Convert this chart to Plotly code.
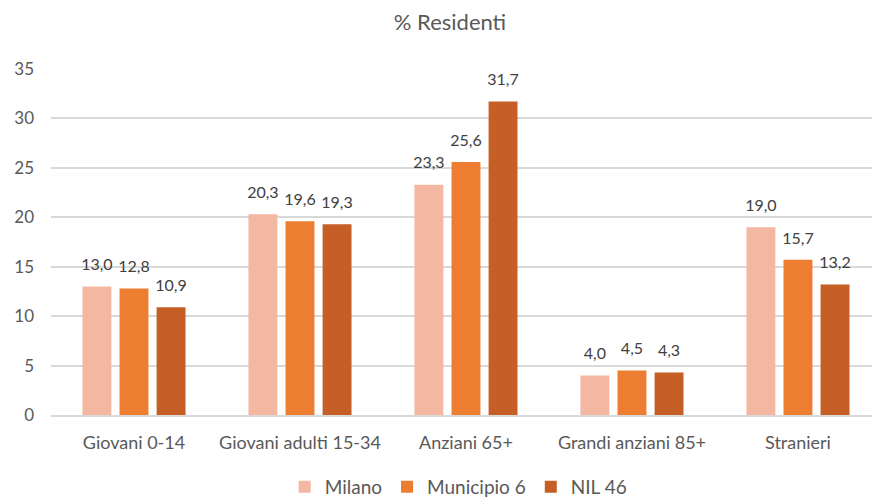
import plotly.graph_objects as go

categories = ["Giovani 0-14", "Giovani adulti 15-34", "Anziani 65+", "Grandi anziani 85+", "Stranieri"]
milano = [13.0, 20.3, 23.3, 4.0, 19.0]
municipio6 = [12.8, 19.6, 25.6, 4.5, 15.7]
nil46 = [10.9, 19.3, 31.7, 4.3, 13.2]

series = [("Milano", milano, "#F4B7A2"), ("Municipio 6", municipio6, "#ED7D31"), ("NIL 46", nil46, "#C55F26")]

FONT = "Lato"
GREY = "#595959"

fig = go.Figure()
for i, (name, vals, col) in enumerate(series):
    fig.add_trace(go.Bar(
        x=categories, y=vals, name=name, marker=dict(color=col, line=dict(width=0)),
        offsetgroup=str(i), hoverinfo="skip",
    ))
for i, (name, vals, col) in enumerate(series):
    fig.add_trace(go.Scatter(
        x=categories, y=vals, mode="markers+text", offsetgroup=str(i), showlegend=False,
        marker=dict(size=18, opacity=0), texttemplate="%{y:.1f}", textposition="top center",
        textfont=dict(family=FONT, size=16, color="#404040"), cliponaxis=False,
    ))

fig.update_layout(
    width=872, height=498,
    paper_bgcolor="white", plot_bgcolor="white",
    margin=dict(l=51, r=0, t=69, b=83),
    separators=",.",
    barmode="group", bargap=0.33, bargroupgap=0.22,
    scattermode="group", scattergap=0.33,
    title=dict(text="% Residenti", x=450 / 872, xanchor="center", y=1 - 22 / 498, yanchor="middle",
               font=dict(family=FONT, size=22, color=GREY)),
    font=dict(family=FONT, color=GREY, size=16),
    legend=dict(orientation="h", x=433 / 872, xanchor="center", yref="container", y=11 / 498, yanchor="middle",
                font=dict(family=FONT, size=19, color=GREY), itemwidth=30, traceorder="normal"),
    showlegend=True,
)
fig.update_xaxes(range=[-0.5, 4.446], showgrid=False, showline=True, linecolor="#D9D9D9", linewidth=1.5,
                 ticks="", tickfont=dict(family=FONT, size=18, color=GREY), ticklabelstandoff=11,
                 automargin=False)
fig.update_yaxes(range=[0, 35], dtick=5, showgrid=True, gridcolor="#D9D9D9", gridwidth=1.5,
                 zeroline=False, showline=False, tickfont=dict(family=FONT, size=17, color=GREY),
                 ticklabelstandoff=16, automargin=False)

fig.write_html("out.html")
